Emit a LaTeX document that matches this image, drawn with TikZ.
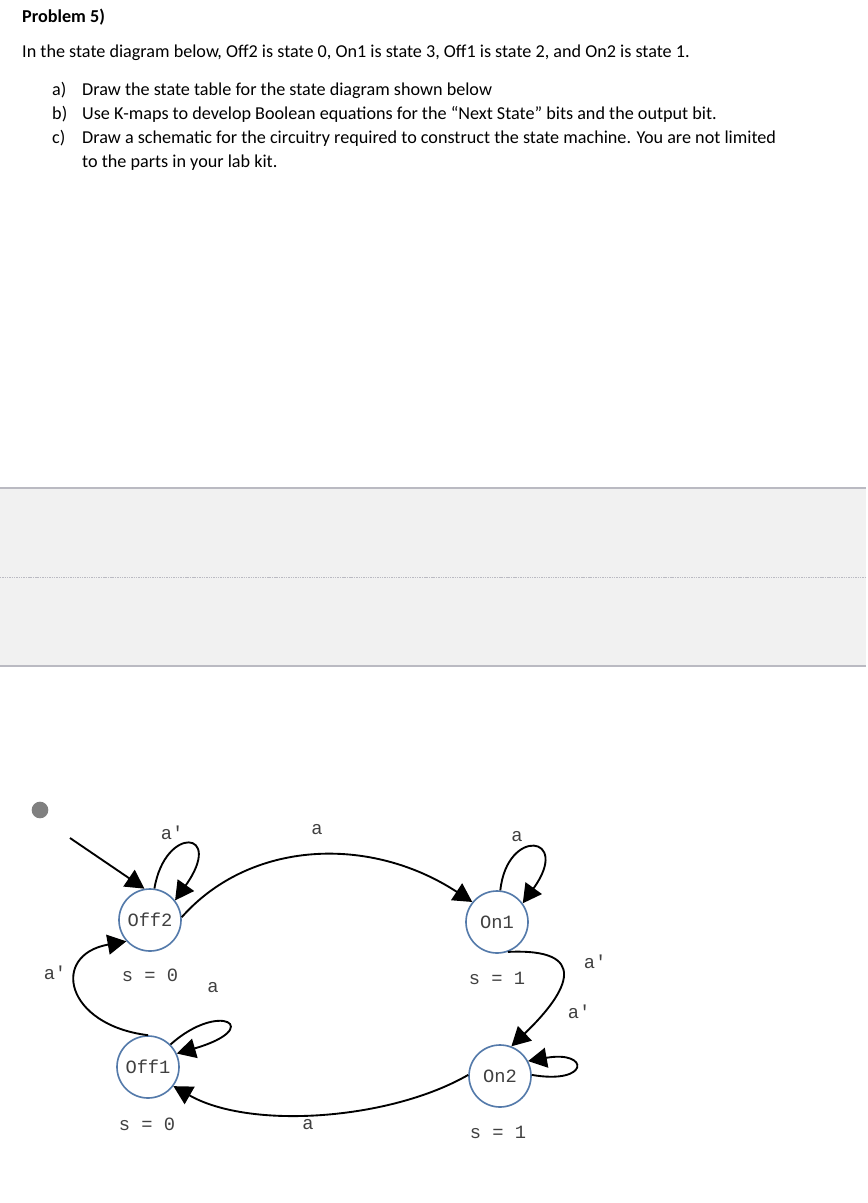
\documentclass[tikz,border=0pt]{standalone}
\usepackage{fontspec}
\setmainfont{Carlito}
\newfontfamily\statefont{Liberation Mono}[Ligatures=TeXOff]
\usetikzlibrary{arrows.meta, calc}
\definecolor{stateblue}{RGB}{84,122,170}
\definecolor{bandgray}{RGB}{241,241,241}
\definecolor{rulegray}{RGB}{186,186,194}
\tikzstyle{state} = [circle, minimum size=1.86cm, inner sep=0pt, draw=stateblue, line width=1.4pt, font=\statefont\fontsize{16}{16}\selectfont, text=black!75]
\tikzstyle{lbl} = [inner sep=0pt, font=\statefont\fontsize{16}{16}\selectfont, text=black!75]
\tikzstyle{body} = [anchor=base west, inner sep=0pt, font=\fontsize{15.5}{18}\selectfont]
\tikzstyle{dot} = [circle, fill=gray, minimum size=0.5cm, inner sep=0pt]
\tikzstyle{arrow} = [line width=1.6pt, -{Triangle[length=16pt,width=17pt]}]

\begin{document}
\begin{tikzpicture}[x=0.03cm, y=-0.03cm]
	\useasboundingbox (0,0) rectangle (868,1203);
	% question text
	\node (P5) [body, font=\fontsize{15.5}{18}\selectfont\bfseries] at (22,23) {Problem 5)};
	\node (Intro) [body] at (22,57) {In the state diagram below, Off2 is state 0, On1 is state 3, Off1 is state 2, and On2 is state 1.};
	\node (La) [body] at (52,95) {a)};
	\node (Ta) [body] at (82,95) {Draw the state table for the state diagram shown below};
	\node (Lb) [body] at (52,119) {b)};
	\node (Tb) [body] at (82,119) {Use K-maps to develop Boolean equations for the “Next State” bits and the output bit.};
	\node (Lc) [body] at (52,143) {c)};
	\node (Tc) [body] at (82,143) {Draw a schematic for the circuitry required to construct the state machine. You are not limited};
	\node (Tc2) [body] at (82,167) {to the parts in your lab kit.};
	% grey band
	\fill[bandgray] (0,488) rectangle (866,666);
	\draw[rulegray, line width=0.9pt] (0,488) -- (866,488);
	\draw[rulegray, line width=0.9pt] (0,666) -- (866,666);
	\draw[rulegray, line width=0.7pt, dash pattern=on 1.2pt off 0.8pt] (0,577) -- (866,577);
	% states
	\node (Off2) [state] at (150,920) {Off2};
	\node (On1) [state] at (497,922) {On1};
	\node (Off1) [state] at (148,1067) {Off1};
	\node (On2) [state] at (500,1076) {On2};
	\node (S0a) [lbl] at (150,975) {s = 0};
	\node (S1a) [lbl] at (497,978) {s = 1};
	\node (S0b) [lbl] at (147,1124) {s = 0};
	\node (S1b) [lbl] at (498,1132) {s = 1};
	\node (Init) [dot] at (40,810) {};
	\coordinate (Start) at (70,838);
	% edges
	\draw [arrow](Start) -- (Off2.100);
	\draw [arrow](Off2.82) .. controls (165,825) and (225,830) .. (Off2.38);
	\draw [arrow](Off2.5) .. controls (250,840) and (370,835) .. (On1.141);
	\draw [arrow](On1.84) .. controls (507,827) and (572,835) .. (On1.36);
	\draw [arrow](On1.-70) .. controls (590,948) and (570,990) .. (On2.69);
	\draw [arrow](On2.2) .. controls (590,1085) and (590,1050) .. (On2.28);
	\draw [arrow](On2.178) .. controls (390,1120) and (250,1130) .. (Off1.-37);
	\draw [arrow](Off1.45) .. controls (220,1000) and (265,1028) .. (Off1.25);
	\draw [arrow](Off1.90) .. controls (65,1025) and (50,955) .. (Off2.222);
	% edge labels
	\node (L1) [lbl] at (172,833) {a'};
	\node (L2) [lbl] at (317,830) {a};
	\node (L3) [lbl] at (517,837) {a};
	\node (L4) [lbl] at (595,962) {a'};
	\node (L5) [lbl] at (579,1012) {a'};
	\node (L6) [lbl] at (213,988) {a};
	\node (L7) [lbl] at (308,1125) {a};
	\node (L8) [lbl] at (55,973) {a'};
\end{tikzpicture}
\end{document}
